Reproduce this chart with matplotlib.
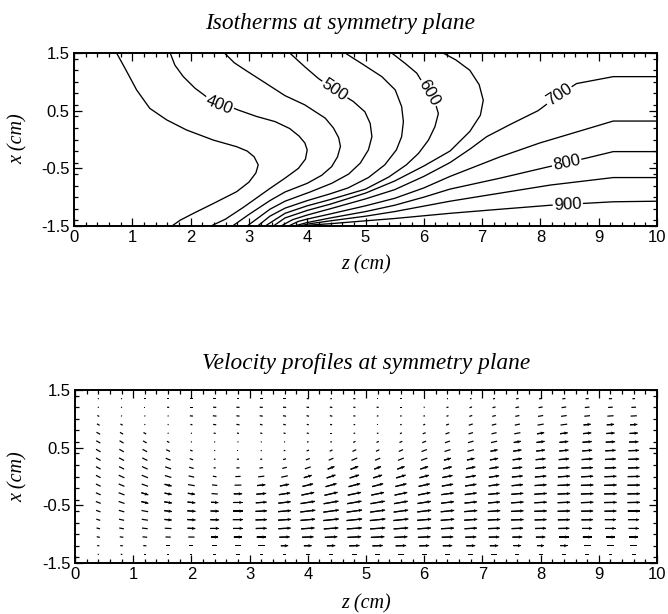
import numpy as np
import matplotlib
matplotlib.use('Agg')
import matplotlib.pyplot as plt
from matplotlib.ticker import MultipleLocator, FixedLocator, FixedFormatter

# ---------------- isotherms (z, x) ----------------
iso_350 = [(0.73, 1.5), (0.875, 1.235), (1.075, 0.858), (1.30, 0.54), (1.59, 0.34), (1.93, 0.165),
           (2.39, -0.01), (2.79, -0.125), (2.97, -0.2), (3.09, -0.3), (3.16, -0.44), (3.12, -0.58),
           (3.0, -0.74), (2.79, -0.905), (2.39, -1.11), (2.05, -1.28), (1.82, -1.40), (1.68, -1.5)]
iso_400 = [(1.65, 1.5), (1.73, 1.29), (1.875, 1.09), (2.075, 0.89), (2.3, 0.72), (2.6, 0.6), (2.82, 0.51),
           (3.13, 0.40), (3.45, 0.31), (3.70, 0.19), (3.86, 0.06), (3.96, -0.06), (4.0, -0.18),
           (3.97, -0.34), (3.85, -0.5), (3.62, -0.67), (3.36, -0.85), (2.9, -1.18), (2.6, -1.38),
           (2.35, -1.5)]
iso_450 = [(2.58, 1.5), (2.75, 1.33), (2.96, 1.19), (3.36, 0.93), (3.62, 0.76), (3.96, 0.6), (4.31, 0.37),
           (4.45, 0.2), (4.54, 0.03), (4.57, -0.12), (4.52, -0.3), (4.42, -0.47), (4.25, -0.62),
           (4.0, -0.76), (3.62, -0.91), (3.36, -1.06), (3.0, -1.3), (2.72, -1.5)]
iso_500 = [(3.7, 1.5), (3.96, 1.26), (4.19, 1.06), (4.47, 0.86), (4.79, 0.66), (4.99, 0.48), (5.08, 0.28),
           (5.11, 0.05), (5.05, -0.18), (4.91, -0.41), (4.71, -0.6), (4.42, -0.76), (4.05, -0.91),
           (3.62, -1.07), (3.36, -1.21), (2.97, -1.5)]
iso_550 = [(4.65, 1.5), (4.93, 1.32), (5.28, 1.09), (5.51, 0.86), (5.62, 0.57), (5.65, 0.31), (5.62, 0.05),
           (5.53, -0.18), (5.33, -0.44), (5.05, -0.66), (4.7, -0.84), (4.4, -0.94), (4.0, -1.06),
           (3.62, -1.19), (3.36, -1.33), (3.15, -1.5)]
iso_600 = [(5.45, 1.5), (5.68, 1.32), (5.88, 1.15), (6.09, 0.8), (6.2, 0.62), (6.25, 0.45), (6.19, 0.22),
           (6.08, -0.01), (5.91, -0.24), (5.7, -0.44), (5.4, -0.65), (5.0, -0.86), (4.4, -1.04),
           (4.0, -1.15), (3.62, -1.28), (3.28, -1.5)]
iso_650 = [(6.33, 1.5), (6.55, 1.38), (6.79, 1.2), (6.95, 0.95), (7.02, 0.68), (6.97, 0.42), (6.79, 0.14),
           (6.45, -0.2), (6.0, -0.46), (5.5, -0.72), (5.0, -0.93), (4.4, -1.12), (4.0, -1.23),
           (3.62, -1.36), (3.42, -1.5)]
iso_700 = [(3.55, -1.5), (3.75, -1.39), (4.0, -1.31), (4.4, -1.2), (5.0, -1.03), (5.5, -0.87),
           (6.0, -0.64), (6.45, -0.4), (6.8, -0.16), (7.08, 0.05), (7.5, 0.27), (7.96, 0.5),
           (8.32, 0.77), (8.62, 0.97), (9.25, 1.09), (10.0, 1.09)]
iso_750 = [(3.68, -1.5), (3.85, -1.42), (4.0, -1.38), (4.4, -1.29), (5.0, -1.15), (5.5, -1.02),
           (6.0, -0.84), (6.45, -0.64), (7.31, -0.3), (7.99, -0.06), (8.62, 0.13), (9.25, 0.32),
           (10.0, 0.32)]
iso_800 = [(3.78, -1.5), (4.0, -1.44), (4.4, -1.36), (5.0, -1.25), (5.5, -1.14), (6.0, -1.0),
           (6.45, -0.86), (7.31, -0.67), (8.11, -0.48), (8.8, -0.32), (9.25, -0.21), (10.0, -0.21)]
iso_850 = [(3.86, -1.5), (4.05, -1.46), (4.4, -1.41), (5.0, -1.33), (5.5, -1.25), (6.45, -1.07),
           (7.31, -0.93), (8.17, -0.79), (9.25, -0.66), (10.0, -0.66)]
iso_900 = [(3.93, -1.5), (4.1, -1.48), (4.4, -1.46), (5.0, -1.41), (5.5, -1.37), (6.45, -1.28),
           (7.3, -1.21), (8.17, -1.14), (9.25, -1.08), (10.0, -1.07)]
isotherms = [iso_350, iso_400, iso_450, iso_500, iso_550, iso_600, iso_650,
             iso_700, iso_750, iso_800, iso_850, iso_900]

label_text = ['400', '500', '600', '700', '800', '900']
label_z = [2.49, 4.47, 6.09, 8.32, 8.45, 8.47]
label_x = [0.60, 0.86, 0.81, 0.77, -0.40, -1.125]
label_rot = [-22, -34, -60, 33, 12, 3]

# ---------------- velocity field ----------------
z_cols = [0.4, 0.8, 1.2, 1.6, 2.0, 2.4, 2.8, 3.2, 3.6, 4.0, 4.4, 4.8,
          5.2, 5.6, 6.0, 6.4, 6.8, 7.2, 7.6, 8.0, 8.4, 8.8, 9.2, 9.6]
x_rows = [1.35, 1.2, 1.05, 0.9, 0.75, 0.6, 0.45, 0.3, 0.15, 0.0,
          -0.15, -0.3, -0.45, -0.6, -0.75, -0.9, -1.05, -1.2, -1.35]
# speed (arbitrary units) per column, rows top -> bottom
speed = [
    [1, 1, 2, 3, 4, 4.5, 5, 5, 5, 5, 5, 5, 5, 4.5, 4, 3.5, 3, 2, 1],
    [1, 1, 1, 2.5, 3.5, 4.5, 5, 5.5, 5.5, 6, 6, 6, 6, 5.5, 5, 4.5, 3.5, 2.5, 1.5],
    [2, 1, 1, 1, 3, 4, 5, 5.5, 6, 6.5, 6.5, 7, 7, 6.5, 6, 5.5, 4.5, 3, 2],
    [2.5, 2, 1, 1, 1, 2.5, 4, 5, 6, 6.5, 7, 7, 7.5, 7.5, 7, 6.5, 5, 3.5, 2],
    [2.5, 3, 3, 2, 1, 1, 2.5, 3.5, 4.5, 5.5, 6.5, 7, 7.5, 8, 8, 7.5, 6, 4, 2],
    [2.5, 3, 3.5, 3, 2, 1, 1, 1.5, 2, 3.5, 5, 6, 7, 8, 8.5, 8.5, 7, 5, 2.5],
    [2, 3, 3, 3, 2, 1, 1, 2, 3, 5, 6.5, 8, 9, 9.5, 10, 9.5, 8, 6, 3],
    [2.5, 3, 3, 2.5, 2, 1, 1, 2, 3.5, 6, 8, 9.5, 10.5, 11, 11, 10.5, 9, 6.5, 3],
    [2.5, 3, 3, 2.5, 2, 1, 1.5, 3, 4.5, 6.5, 9, 11, 12, 12.5, 12.5, 12, 10, 7, 3],
    [2, 2.5, 2.5, 2, 2, 1.5, 2.5, 4, 6, 8, 10.5, 12.5, 14, 14.5, 14, 13, 11, 7.5, 3.5],
    [1.5, 2.5, 2.5, 2, 1.5, 1.5, 3, 5, 7, 9, 11, 13, 14.5, 15, 15, 14, 12, 8, 4],
    [2, 2, 2, 1.5, 1.5, 2.5, 4, 6, 8, 9.5, 11.5, 13, 14, 15, 15, 14.5, 13, 10, 5],
    [1.5, 2, 1.5, 1.5, 1.5, 2.5, 3.5, 5.5, 7, 9, 11, 12.5, 14, 14.5, 15, 14.5, 13, 10, 5],
    [1.5, 1.5, 1.5, 1.5, 2, 3, 4.5, 6, 7.5, 9.5, 11, 12.5, 13.5, 14, 14.5, 14, 12.5, 10, 5],
    [1, 1, 1.5, 2, 3, 4, 5.5, 6.5, 8, 9.5, 11, 12, 13, 13.5, 13.5, 13, 12, 9.5, 5],
    [1, 2, 2, 3, 4, 5, 6, 7, 8.5, 10, 11, 12, 12.5, 13, 13, 12.5, 11, 9, 5],
    [1.5, 2.5, 3, 4, 4.5, 5.5, 6.5, 7.5, 9, 10, 11, 11.5, 12, 12.5, 12.5, 12, 10.5, 8.5, 5],
    [2, 3, 3.5, 4.5, 5, 6, 7, 8, 9, 10, 10.5, 11, 11.5, 12, 12, 11.5, 10, 8, 5],
    [2.5, 3.5, 4, 5, 6, 7, 8, 9, 9.5, 10.5, 11, 11.5, 12, 12, 12, 11, 9.5, 7.5, 4],
    [3, 4, 5, 6, 7, 8, 8.5, 9.5, 10.5, 11, 11.5, 12, 12, 12, 11.5, 10.5, 9, 7, 4],
    [3, 4.5, 5.5, 6.5, 7.5, 8.5, 9, 10, 11, 11.5, 12, 12, 12, 12, 11.5, 10.5, 9, 7, 4],
    [3, 4.5, 5.5, 7, 8, 9, 9.5, 10.5, 11, 11.5, 12, 12, 12, 11.5, 11, 10, 8.5, 6.5, 3.5],
    [3, 4.5, 6, 7, 8, 9, 10, 10.5, 11, 11.5, 12, 12, 12, 11.5, 11, 10, 8.5, 6.5, 3.5],
    [2.5, 4.5, 6, 7, 8, 9, 10, 10.5, 11, 11.5, 12, 12, 12, 11.5, 11, 10, 8.5, 6.5, 3.5],
]
# flow direction (degrees from +z toward +x) per column, rows top -> bottom
angle = [
    [-30, -30, -30, -30, -30, -30, -30, -30, -28, -28, -26, -24, -22, -20, -18, -15, -12, -8, -5],
    [-30, -30, -30, -30, -30, -30, -30, -28, -27, -25, -23, -21, -19, -16, -13, -10, -8, -5, -3],
    [0, 0, -20, -30, -30, -30, -28, -27, -25, -23, -20, -17, -14, -11, -9, -7, -5, -3, 0],
    [0, -5, -15, -25, -30, -28, -25, -23, -20, -17, -14, -11, -9, -7, -5, -3, -2, 0, 0],
    [0, 0, -5, -10, -20, -25, -22, -20, -17, -13, -10, -8, -6, -4, -3, -2, -1, 0, 0],
    [0, -3, -5, -8, -12, -15, -15, -12, -10, -8, -6, -4, -3, -2, -1, 0, 0, 0, 0],
    [0, -3, -6, -10, -15, -10, 0, 2, 2, 2, 1, 1, 0, 0, 0, 0, 0, 0, 0],
    [0, -3, -8, -15, -20, -15, 5, 8, 8, 7, 6, 5, 4, 3, 2, 1, 0, 0, 0],
    [0, -5, -10, -15, -20, -10, 15, 15, 15, 13, 11, 9, 7, 5, 4, 3, 2, 1, 0],
    [-3, -8, -12, -15, -18, 5, 20, 20, 19, 17, 14, 12, 9, 7, 5, 4, 2, 1, 0],
    [-5, -10, -15, -15, 0, 25, 25, 24, 22, 19, 16, 13, 10, 8, 6, 4, 3, 2, 0],
    [-3, -5, -10, -5, 15, 25, 25, 23, 21, 18, 15, 12, 10, 8, 6, 4, 3, 2, 0],
    [0, -5, -10, 0, 20, 25, 25, 23, 21, 18, 15, 12, 10, 8, 6, 4, 3, 2, 0],
    [0, 0, 5, 15, 25, 25, 24, 22, 20, 17, 14, 12, 10, 8, 6, 4, 3, 2, 0],
    [0, 5, 10, 22, 22, 22, 21, 20, 18, 15, 13, 11, 9, 7, 5, 4, 3, 2, 0],
    [10, 15, 20, 20, 20, 19, 18, 16, 14, 12, 10, 8, 7, 6, 5, 3, 2, 1, 0],
    [15, 18, 18, 18, 17, 16, 15, 13, 12, 10, 9, 8, 6, 5, 4, 3, 2, 1, 0],
    [12, 15, 15, 15, 14, 13, 12, 11, 10, 9, 8, 6, 5, 4, 3, 2, 1, 1, 0],
    [10, 12, 12, 12, 11, 10, 9, 8, 7, 6, 6, 5, 4, 3, 2, 2, 1, 0, 0],
    [8, 10, 10, 10, 9, 8, 7, 6, 6, 5, 4, 4, 3, 2, 2, 1, 1, 0, 0],
    [6, 8, 8, 8, 7, 6, 6, 5, 4, 4, 3, 3, 2, 2, 1, 1, 0, 0, 0],
    [5, 6, 6, 6, 5, 5, 4, 4, 3, 3, 2, 2, 2, 1, 1, 0, 0, 0, 0],
    [3, 4, 4, 4, 4, 3, 3, 3, 2, 2, 2, 1, 1, 1, 0, 0, 0, 0, 0],
    [2, 3, 3, 3, 3, 2, 2, 2, 2, 1, 1, 1, 1, 0, 0, 0, 0, 0, 0],
]

x_ticks = [0, 1, 2, 3, 4, 5, 6, 7, 8, 9, 10]
y_ticks = [-1.5, -0.5, 0.5, 1.5]
y_ticklabels = ['-1.5', '-0.5', '0.5', '1.5']

# ---------------- drawing ----------------
W, H = 668, 614
fig = plt.figure(figsize=(W / 100, H / 100), dpi=100)
SANS = 'Liberation Sans'
SERIF = 'Liberation Serif'


def style_axes(ax):
    ax.set_xlim(0, 10)
    ax.set_ylim(-1.5, 1.5)
    ax.xaxis.set_major_locator(FixedLocator(x_ticks))
    ax.xaxis.set_major_formatter(FixedFormatter([str(t) for t in x_ticks]))
    ax.xaxis.set_minor_locator(MultipleLocator(0.2))
    ax.yaxis.set_major_locator(FixedLocator(y_ticks))
    ax.yaxis.set_major_formatter(FixedFormatter(y_ticklabels))
    ax.yaxis.set_minor_locator(MultipleLocator(0.2))
    ax.tick_params(which='both', direction='in', top=True, right=True, width=0.9,
                   labelsize=12, colors='black')
    ax.tick_params(which='major', length=6, pad=3)
    ax.tick_params(which='minor', length=3)
    for lab in ax.get_xticklabels() + ax.get_yticklabels():
        lab.set_fontfamily(SANS)
    for s in ax.spines.values():
        s.set_linewidth(1.4)


def fx(px):
    return px / W


def fy(py):
    return 1 - py / H


# top: isotherms
ax1 = fig.add_axes([fx(74), fy(226), fx(657) - fx(74), fy(53) - fy(226)])
for line in isotherms:
    arr = np.array(line)
    ax1.plot(arr[:, 0], arr[:, 1], color='black', lw=0.95, solid_joinstyle='round')
for t, z, x, r in zip(label_text, label_z, label_x, label_rot):
    ax1.text(z, x, t, rotation=r, rotation_mode='anchor', ha='center', va='center',
             fontsize=12, family=SANS, zorder=5,
             bbox=dict(facecolor='white', edgecolor='none', pad=0.8))
style_axes(ax1)

# bottom: velocity vectors
ax2 = fig.add_axes([fx(75), fy(563), fx(657) - fx(75), fy(390) - fy(563)])
Zg, Xg = np.meshgrid(z_cols, x_rows, indexing='ij')
S = np.array(speed)
A = np.deg2rad(np.array(angle))
U = S * np.cos(A)
V = S * np.sin(A)
common = dict(angles='xy', scale_units='xy', scale=56.0, pivot='mid', color='black')
# shafts for every vector
ax2.quiver(Zg, Xg, U, V, width=0.0021, headwidth=1, headlength=0, headaxislength=0,
           minlength=0.3, **common)
# small heads where the arrows are long enough to show them
big = S >= 7
Um = np.ma.masked_where(~big, U)
Vm = np.ma.masked_where(~big, V)
ax2.quiver(Zg, Xg, Um, Vm, width=0.0021, headwidth=2.8, headlength=2.8, headaxislength=2.5,
           minlength=0.3, **common)
style_axes(ax2)

# titles and axis labels
fig.text(fx(340), fy(24), 'Isotherms at symmetry plane', ha='center', va='center',
         fontsize=16.8, family=SERIF, style='italic')
fig.text(fx(366), fy(265), 'z (cm)', ha='center', va='center', fontsize=14.5, family=SERIF, style='italic')
fig.text(fx(18), fy(139), 'x (cm)', ha='center', va='center', rotation=90, fontsize=14.5,
         family=SERIF, style='italic')
fig.text(fx(366), fy(363), 'Velocity profiles at symmetry plane', ha='center', va='center',
         fontsize=16.8, family=SERIF, style='italic')
fig.text(fx(366), fy(604), 'z (cm)', ha='center', va='center', fontsize=14.5, family=SERIF, style='italic')
fig.text(fx(18), fy(477), 'x (cm)', ha='center', va='center', rotation=90, fontsize=14.5,
         family=SERIF, style='italic')

fig.savefig('out.png', dpi=100)
